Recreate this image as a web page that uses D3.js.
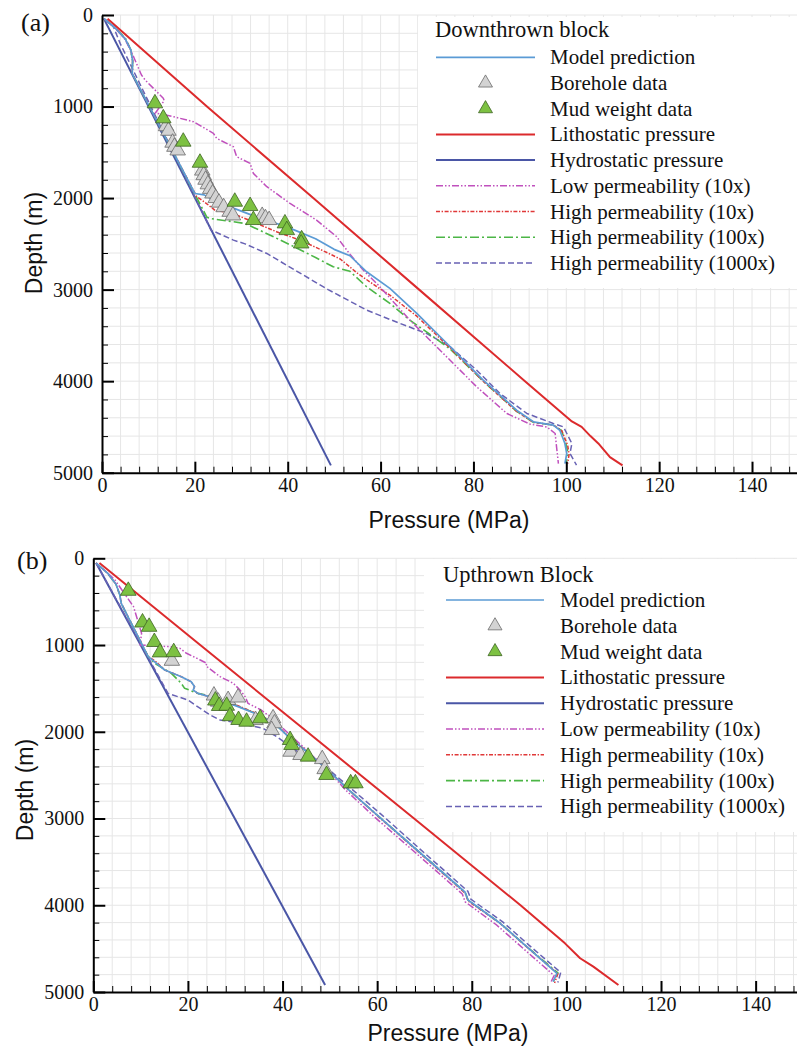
<!DOCTYPE html>
<html>
<head>
<meta charset="utf-8">
<script src="https://cdn.jsdelivr.net/npm/d3@7"></script>
<style>
  body { margin: 0; background: #fff; }
</style>
</head>
<body>
<svg id="chart" width="797" height="1049"></svg>
<script>
// axis ticks
var pressureTicks = [0, 20, 40, 60, 80, 100, 120, 140];
var depthTicks = [0, 1000, 2000, 3000, 4000, 5000];

var seriesNames = ["Model prediction", "Borehole data", "Mud weight data",
    "Lithostatic pressure", "Hydrostatic pressure", "Low permeability (10x)",
    "High permeability (10x)", "High permeability (100x)", "High permeability (1000x)"];
var panelTitles = ["Downthrown block", "Upthrown Block"];
var panelLabels = ["(a)", "(b)"];

// ---- panel (a): downthrown block, pairs are [pressure MPa, depth m] ----
var aLitho = [[1.2,40],[22.6,1000],[45.5,2000],[68.3,3000],[91.1,4000],[101.2,4440],[103.3,4500],
    [105.2,4600],[106.9,4680],[109.4,4830],[112.1,4920]];
var aHydro = [[0.4,40],[49.3,4920]];
var aModel = [[0.4,40],[3,150],[5,260],[6.2,380],[6.6,500],[6.5,640],[20,1950],[22,1965],[24,2020],
    [28.3,2110],[34,2220],[39,2300],[41.5,2350],[46,2445],[50,2560],[53.4,2630],[57,2805],[62,2987],
    [67.8,3260],[75,3624],[82.1,3989],[89.3,4317],[92.9,4444],[97.2,4481],[98.6,4536],[99.7,4681],
    [100.1,4790],[99.7,4900]];
var aLow = [[0.4,40],[3,150],[5,270],[6.5,420],[8.5,656],[9.3,710],[13.2,910],[13.4,935],[11.5,1070],
    [15.4,1111],[19.7,1166],[24,1293],[24.7,1348],[28.3,1439],[29,1548],[31.9,1621],[32.6,1730],
    [35.5,1876],[40.5,2058],[46.2,2240],[50.5,2420],[53.5,2620],[56.5,2800],[59.5,2950],[66.3,3333],
    [73.5,3697],[80.7,4062],[87.2,4353],[92.2,4470],[95.8,4500],[97.6,4572],[97.9,4718],[98.3,4900]];
var aHigh10 = [[0.4,40],[3,150],[5,260],[6.2,380],[6.6,500],[6.5,640],[20.4,1985],[22,2040],[24.3,2131],
    [28.3,2170],[33,2270],[37.6,2368],[42.6,2459],[47,2560],[51.3,2665],[55,2820],[59.2,2969],[62,3060],
    [67.8,3290],[75,3640],[82.1,4000],[89.3,4330],[92.9,4450],[97.2,4480],[99,4540],[100.3,4700],
    [100.6,4800],[100.3,4900]];
var aHigh100 = [[0.4,40],[3,150],[5,250],[6.2,380],[6.6,500],[6.5,640],[22.6,2210],[23.6,2225],
    [30.8,2277],[36,2400],[41.4,2532],[46,2650],[49.8,2750],[53.4,2800],[57,2969],[62,3150],[66.3,3333],
    [71.4,3516],[75,3650],[82.1,4000],[89.3,4330],[92.9,4450],[97.2,4480],[99,4540],[100,4700],
    [100.4,4800],[100,4880]];
var aHigh1000 = [[0.4,40],[2.4,120],[3.9,310],[23.5,2350],[28.3,2459],[30.8,2500],[35.5,2605],
    [42,2800],[48.7,3000],[57,3224],[64.2,3370],[69.9,3479],[75,3625],[80.7,3880],[85.7,4134],
    [91.5,4353],[97.2,4462],[99.4,4500],[101.2,4681],[100.8,4790],[102.2,4918]];
var aBore = [[13.8,1215],[14.3,1265],[15.2,1395],[15.6,1440],[16.3,1480],[21.6,1700],[21.9,1750],
    [22.3,1800],[22.8,1850],[23.3,1900],[23.8,1950],[24.5,2000],[25.2,2050],[26.2,2100],[27.5,2150],
    [28.2,2190],[34.5,2195],[35.2,2220],[36,2240]];
var aMud = [[11.4,965],[13.2,1129],[17.5,1384],[21.1,1614],[28.6,2040],[31.9,2087],[32.6,2240],
    [39.4,2277],[39.8,2350],[43,2451],[42.9,2496]];

// ---- panel (b): upthrown block ----
var bLitho = [[1.3,55],[22.6,1000],[45.2,2000],[67.8,3000],[90.3,4000],[99.7,4439],[102.9,4611],
    [105.7,4708],[111,4919]];
var bHydro = [[0.6,55],[49,4919]];
var bModel = [[0.6,55],[3,170],[4.8,300],[5.6,420],[5.9,519],[11.6,1134],[15.1,1288],[18.6,1365],
    [20.7,1423],[21.4,1480],[21.1,1518],[22.1,1557],[25.7,1614],[30.6,1710],[34.1,1787],[38.3,1902],
    [41.2,2057],[44.7,2210],[49.6,2441],[54,2671],[60,2960],[68.4,3363],[78.6,3850],[79.2,3940],
    [86,4208],[91.6,4477],[98,4784],[97.2,4880]];
var bLow = [[0.6,55],[3,170],[4.6,251],[6.5,400],[8.5,557],[10.2,865],[9.9,1000],[16.2,1019],
    [18.3,1038],[19.7,1095],[22.6,1172],[24,1211],[23.8,1240],[25.4,1307],[26.8,1365],[29.6,1441],
    [31,1518],[32.1,1596],[32.7,1672],[35.5,1749],[38.3,1864],[41.2,2018],[44.5,2180],[49.3,2430],
    [53.5,2680],[59.6,2990],[67.8,3380],[78,3870],[78.6,3960],[85.3,4230],[90.9,4500],[97.4,4810],
    [96.6,4900]];
var bHigh10 = [[0.6,55],[3,170],[4.8,300],[5.6,420],[5.9,519],[11.6,1134],[13,1180],[15.1,1288],
    [18.6,1365],[20.7,1423],[21.4,1480],[21.1,1518],[22.1,1557],[25.7,1614],[30.6,1700],[34.1,1780],
    [38.3,1895],[41.2,2050],[44.7,2205],[49.6,2440],[54,2671],[60.2,2975],[68.4,3370],[78.6,3860],
    [79.2,3950],[86,4210],[91.6,4480],[98.2,4790],[97.5,4895]];
var bHigh100 = [[0.6,55],[3,170],[4.8,300],[5.6,420],[5.9,519],[11.6,1134],[13,1211],[16.5,1326],
    [18.6,1441],[19.3,1499],[22.1,1557],[25.7,1600],[30.6,1705],[34.1,1785],[38.3,1900],[41.2,2055],
    [44.7,2210],[49.6,2440],[54,2670],[60.2,2970],[68.4,3360],[78.6,3850],[79.2,3940],[86,4205],
    [91.6,4475],[98.2,4780],[97,4900]];
var bHigh1000 = [[0.6,55],[15.8,1557],[20,1634],[24.7,1807],[26.8,1864],[31,1903],[35.9,1960],
    [38.8,2057],[43.7,2248],[48.2,2363],[54.4,2650],[60.8,2950],[69,3350],[79.2,3840],[79.8,3930],
    [86.6,4195],[92.2,4465],[98.8,4775],[98.2,4890]];
var bBore = [[16.6,1182],[25.5,1582],[26.4,1653],[28.5,1634],[30.6,1605],[34.3,1865],[38,1845],
    [38.3,1902],[37.7,1980],[41.7,2230],[43.8,2268],[48.4,2315],[48.9,2431]];
var bMud = [[7.4,375],[10.4,740],[11.8,790],[12.9,965],[14.1,1085],[17,1082],[25.8,1640],[26.6,1703],
    [28.2,1700],[28.9,1820],[30.7,1864],[32.4,1884],[35.3,1845],[41.6,2095],[41.9,2152],[45.4,2287],
    [49.3,2498],[54.4,2594],[55.4,2594]];

// styles, in the order of seriesNames
var styles = [
    {kind: "line", color: "#5b9bd5", width: 1.7, dash: null},
    {kind: "mark", fill: "#d3d3d3", stroke: "#6b6b6b"},
    {kind: "mark", fill: "#7dc142", stroke: "#3f6424"},
    {kind: "line", color: "#dc2a2c", width: 2, dash: null},
    {kind: "line", color: "#4a56a6", width: 2, dash: null},
    {kind: "line", color: "#c050bd", width: 1.5, dash: "7,2,1.5,2,1.5,2"},
    {kind: "line", color: "#e03838", width: 1.5, dash: "4,1.6,1.4,1.6"},
    {kind: "line", color: "#4cb646", width: 1.6, dash: "9,3,2,3"},
    {kind: "line", color: "#6862b4", width: 1.5, dash: "6,3"}
];

var serif = "'Liberation Serif', 'Times New Roman', serif";
var sans = "'Liberation Sans', Arial, sans-serif";

var svg = d3.select("#chart");
svg.append("rect").attr("width", 797).attr("height", 1049).attr("fill", "#fff");

function drawPanel(cfg, series) {
    var x = d3.scaleLinear().domain([0, 150]).range([cfg.x0, cfg.x0 + 150 * cfg.kx]);
    var y = d3.scaleLinear().domain([0, 5000]).range([cfg.y0, cfg.y1]);
    var g = svg.append("g");

    // grid
    g.append("g").selectAll("line")
        .data(d3.range(4, 150, 4))
        .enter().append("line")
        .attr("x1", d => x(d)).attr("x2", d => x(d))
        .attr("y1", y(0)).attr("y2", y(5000))
        .attr("stroke", "#e6e6e6").attr("stroke-width", 1);
    g.append("g").selectAll("line")
        .data(d3.range(0, 5000, 200))
        .enter().append("line")
        .attr("x1", x(0)).attr("x2", x(150))
        .attr("y1", d => y(d)).attr("y2", d => y(d))
        .attr("stroke", "#e6e6e6").attr("stroke-width", 1);

    // legend background
    g.append("rect")
        .attr("x", cfg.legBox[0]).attr("y", cfg.legBox[1])
        .attr("width", cfg.legBox[2]).attr("height", cfg.legBox[3])
        .attr("fill", "#fff");

    // curves
    var line = d3.line().x(d => x(d[0])).y(d => y(d[1]));
    [3, 4, 8, 7, 6, 5, 0].forEach(i => {
        var s = styles[i];
        g.append("path")
            .datum(series[i])
            .attr("d", line)
            .attr("fill", "none")
            .attr("stroke", s.color)
            .attr("stroke-width", s.width)
            .attr("stroke-dasharray", s.dash)
            .attr("stroke-linejoin", "round");
    });

    // triangles
    var tri = d3.symbol().type(d3.symbolTriangle).size(105);
    [1, 2].forEach(i => {
        g.append("g").selectAll("path")
            .data(series[i])
            .enter().append("path")
            .attr("d", tri)
            .attr("transform", d => "translate(" + x(d[0]) + "," + y(d[1]) + ")")
            .attr("fill", styles[i].fill)
            .attr("stroke", styles[i].stroke)
            .attr("stroke-width", 0.8);
    });

    // axes
    var xMinor = d3.range(4, 150, 4).filter(v => v % 20 != 0);
    var yMinor = d3.range(200, 5000, 200).filter(v => v % 1000 != 0);

    g.append("g")
        .attr("transform", "translate(0," + cfg.y1 + ")")
        .call(d3.axisBottom(x).tickValues(xMinor).tickSize(-6).tickSizeOuter(0).tickFormat(""))
        .call(a => a.select(".domain").remove())
        .selectAll("line").attr("stroke", "#000").attr("stroke-width", 1);
    var xa = g.append("g")
        .attr("transform", "translate(0," + cfg.y1 + ")")
        .call(d3.axisBottom(x).tickValues(pressureTicks).tickSize(-11).tickSizeOuter(0)
            .tickPadding(5).tickFormat(d3.format("d")));
    xa.select(".domain").attr("stroke-width", 2);
    xa.selectAll(".tick line").attr("stroke-width", 2);
    xa.selectAll("text").attr("font-size", 20).attr("font-family", serif).attr("fill", "#111");

    g.append("g")
        .attr("transform", "translate(" + cfg.x0 + ",0)")
        .call(d3.axisLeft(y).tickValues(yMinor).tickSize(-6).tickSizeOuter(0).tickFormat(""))
        .call(a => a.select(".domain").remove())
        .selectAll("line").attr("stroke", "#000").attr("stroke-width", 1);
    var ya = g.append("g")
        .attr("transform", "translate(" + cfg.x0 + ",0)")
        .call(d3.axisLeft(y).tickValues(depthTicks).tickSize(-12).tickSizeOuter(0)
            .tickPadding(9).tickFormat(d3.format("d")));
    ya.select(".domain").attr("stroke-width", 2);
    ya.selectAll(".tick line").attr("stroke-width", 2);
    ya.selectAll("text").attr("font-size", 20).attr("font-family", serif).attr("fill", "#111");

    // axis titles
    g.append("text")
        .attr("x", cfg.xTitle[0]).attr("y", cfg.xTitle[1])
        .attr("text-anchor", "middle")
        .attr("font-family", sans).attr("font-size", 23).attr("fill", "#111")
        .text("Pressure (MPa)");
    g.append("text")
        .attr("transform", "translate(" + cfg.yTitle[0] + "," + cfg.yTitle[1] + ") rotate(-90)")
        .attr("text-anchor", "middle")
        .attr("font-family", sans).attr("font-size", 23).attr("fill", "#111")
        .text("Depth (m)");

    // panel label
    g.append("text")
        .attr("x", cfg.label[0]).attr("y", cfg.label[1])
        .attr("font-family", serif).attr("font-size", 26).attr("fill", "#111")
        .text(cfg.labelText);

    // legend
    var lg = g.append("g");
    lg.append("text")
        .attr("x", cfg.legTitle[0]).attr("y", cfg.legTitle[1])
        .attr("font-family", serif).attr("font-size", 22.5).attr("fill", "#111")
        .text(cfg.title);
    seriesNames.forEach((name, i) => {
        var ly = cfg.legY0 + i * cfg.legDy;
        var s = styles[i];
        if (s.kind == "line") {
            lg.append("line")
                .attr("x1", cfg.legLine[0]).attr("x2", cfg.legLine[1])
                .attr("y1", ly).attr("y2", ly)
                .attr("stroke", s.color).attr("stroke-width", s.width)
                .attr("stroke-dasharray", s.dash);
        } else {
            lg.append("path")
                .attr("d", d3.symbol().type(d3.symbolTriangle).size(85))
                .attr("transform", "translate(" + (cfg.legLine[0] + cfg.legLine[1]) / 2 + "," + ly + ")")
                .attr("fill", s.fill).attr("stroke", s.stroke).attr("stroke-width", 0.8);
        }
        lg.append("text")
            .attr("x", cfg.legText).attr("y", ly + 7)
            .attr("font-family", serif).attr("font-size", 21).attr("fill", "#111")
            .text(name);
    });
}

drawPanel({
    x0: 102, kx: 4.643, y0: 15, y1: 472.7,
    legBox: [418, 17, 400, 271],
    legTitle: [435, 36.5], legY0: 57.3, legDy: 25.7, legLine: [436, 535], legText: 550,
    xTitle: [449, 528], yTitle: [42, 243],
    label: [21, 31], labelText: panelLabels[0], title: panelTitles[0]
}, [aModel, aBore, aMud, aLitho, aHydro, aLow, aHigh10, aHigh100, aHigh1000]);

drawPanel({
    x0: 93.3, kx: 4.731, y0: 558.3, y1: 992,
    legBox: [424, 559, 400, 273],
    legTitle: [443, 581.5], legY0: 600, legDy: 25.8, legLine: [446, 544], legText: 560,
    xTitle: [448, 1041], yTitle: [33, 790],
    label: [17, 569], labelText: panelLabels[1], title: panelTitles[1]
}, [bModel, bBore, bMud, bLitho, bHydro, bLow, bHigh10, bHigh100, bHigh1000]);
</script>
</body>
</html>
